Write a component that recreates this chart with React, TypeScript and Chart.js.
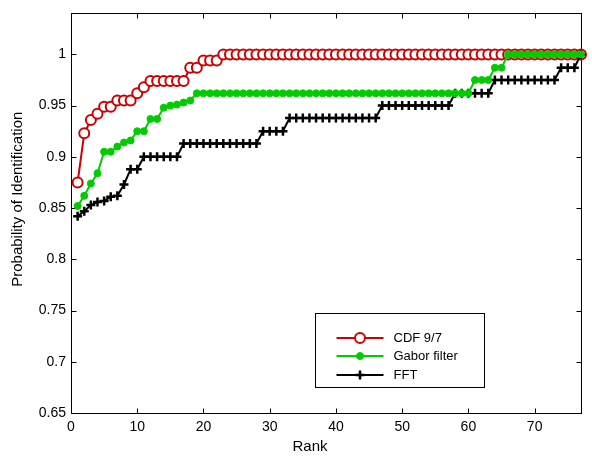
import React, { useEffect, useRef } from "react";
import { Chart, registerables } from "chart.js";

Chart.register(...registerables);

// ---- data ----
const ranks = Array.from({ length: 77 }, (_, i) => i + 1);

const cdf97 = [
  0.875, 0.923, 0.936, 0.942, 0.949, 0.949, 0.955, 0.955, 0.955, 0.962, 0.968,
  0.974, 0.974, 0.974, 0.974, 0.974, 0.974,
  0.987, 0.987,
  0.994, 0.994, 0.994,
  1, 1, 1, 1, 1, 1, 1, 1, 1, 1, 1,
  1, 1, 1, 1, 1, 1, 1, 1, 1, 1, 1,
  1, 1, 1, 1, 1, 1, 1, 1, 1, 1, 1,
  1, 1, 1, 1, 1, 1, 1, 1, 1, 1, 1,
  1, 1, 1, 1, 1, 1, 1, 1, 1, 1, 1,
];

const gabor = [
  0.852, 0.862, 0.874, 0.884, 0.905, 0.905, 0.91, 0.914, 0.916, 0.925, 0.925,
  0.937, 0.937, 0.948, 0.95, 0.951, 0.953, 0.955,
  0.962, 0.962, 0.962, 0.962, 0.962, 0.962, 0.962,
  0.962, 0.962, 0.962, 0.962, 0.962, 0.962, 0.962,
  0.962, 0.962, 0.962, 0.962, 0.962, 0.962, 0.962,
  0.962, 0.962, 0.962, 0.962, 0.962, 0.962, 0.962,
  0.962, 0.962, 0.962, 0.962, 0.962, 0.962, 0.962,
  0.962, 0.962, 0.962, 0.962, 0.962, 0.962, 0.962,
  0.975, 0.975, 0.975,
  0.987, 0.987,
  1, 1, 1, 1, 1, 1, 1, 1, 1, 1, 1, 1,
];

const fft = [
  0.842, 0.847, 0.853, 0.856, 0.857, 0.861, 0.862, 0.873, 0.888, 0.888,
  0.9, 0.9, 0.9, 0.9, 0.9, 0.9,
  0.913, 0.913, 0.913, 0.913, 0.913, 0.913, 0.913, 0.913, 0.913, 0.913, 0.913, 0.913,
  0.925, 0.925, 0.925, 0.925,
  0.938, 0.938, 0.938, 0.938, 0.938, 0.938, 0.938, 0.938, 0.938, 0.938, 0.938, 0.938, 0.938, 0.938,
  0.95, 0.95, 0.95, 0.95, 0.95, 0.95, 0.95, 0.95, 0.95, 0.95, 0.95,
  0.962, 0.962, 0.962, 0.962, 0.962, 0.962,
  0.975, 0.975, 0.975, 0.975, 0.975, 0.975, 0.975, 0.975, 0.975, 0.975,
  0.987, 0.987, 0.987,
  1,
];

const seriesNames = ["CDF 9/7", "Gabor filter", "FFT"];
const xTicks = [0, 10, 20, 30, 40, 50, 60, 70];
const yTicks = [0.65, 0.7, 0.75, 0.8, 0.85, 0.9, 0.95, 1];
const xLabel = "Rank";
const yLabel = "Probability of Identification";

// ---- styles ----
const FONT = '"Liberation Sans", Arial, Helvetica, sans-serif';
const RED = "rgb(204,0,0)";
const GREEN = "rgb(0,204,0)";
const BLACK = "#000000";

const framePlugin = {
  id: "frame",
  beforeDatasetsDraw(chart: any) {
    const { ctx, chartArea: a, scales } = chart;
    ctx.save();
    ctx.strokeStyle = "#000";
    ctx.lineWidth = 1;
    const l = Math.round(a.left) + 0.5;
    const t = Math.round(a.top) + 0.5;
    const r = Math.round(a.right) + 0.5;
    const b = Math.round(a.bottom) + 0.5;
    ctx.strokeRect(l, t, r - l, b - t);
    const L = 5;
    ctx.beginPath();
    for (const v of xTicks) {
      const x = Math.round(scales.x.getPixelForValue(v)) + 0.5;
      ctx.moveTo(x, b);
      ctx.lineTo(x, b - L);
      ctx.moveTo(x, t);
      ctx.lineTo(x, t + L);
    }
    for (const v of yTicks) {
      const y = Math.round(scales.y.getPixelForValue(v)) + 0.5;
      ctx.moveTo(l, y);
      ctx.lineTo(l + L, y);
      ctx.moveTo(r, y);
      ctx.lineTo(r - L, y);
    }
    ctx.stroke();
    ctx.restore();
  },
};

// axis titles (drawn as canvas text, placed like the reference)
const axisTitlePlugin = {
  id: "axisTitles",
  afterDraw(chart: any) {
    const { ctx, chartArea: a } = chart;
    ctx.save();
    ctx.fillStyle = "#000";
    ctx.font = `15px ${FONT}`;
    ctx.textAlign = "center";
    ctx.textBaseline = "middle";
    const cx = (a.left + a.right) / 2;
    ctx.fillText(xLabel, cx - 16, a.bottom + 34);
    const cy = (a.top + a.bottom) / 2;
    ctx.translate(18, cy - 14);
    ctx.rotate(-Math.PI / 2);
    ctx.fillText(yLabel, 0, 0);
    ctx.restore();
  },
};

const boxLegendPlugin = {
  id: "boxLegend",
  afterDraw(chart: any) {
    const { ctx, chartArea: a } = chart;
    const right = Math.round(a.right - 97) + 0.5;
    const bottom = Math.round(a.bottom - 26) + 0.5;
    const w = 169;
    const h = 74;
    const left = right - w;
    const top = bottom - h;
    ctx.save();
    ctx.fillStyle = "#fff";
    ctx.fillRect(left, top, w, h);
    ctx.strokeStyle = "#000";
    ctx.lineWidth = 1;
    ctx.strokeRect(left, top, w, h);
    const rows = [24, 42.5, 61];
    chart.data.datasets.forEach((ds: any, i: number) => {
      const y = Math.round(top + rows[i]);
      const x1 = left + 21;
      const x2 = left + 68;
      const xm = (x1 + x2) / 2;
      ctx.strokeStyle = ds.borderColor;
      ctx.lineWidth = ds.borderWidth;
      ctx.beginPath();
      ctx.moveTo(x1, y);
      ctx.lineTo(x2, y);
      ctx.stroke();
      const rr = ds.pointRadius;
      ctx.lineWidth = ds.pointBorderWidth;
      ctx.strokeStyle = ds.pointBorderColor;
      ctx.fillStyle = ds.pointBackgroundColor;
      if (ds.pointStyle === "cross") {
        ctx.beginPath();
        ctx.moveTo(xm - rr, y);
        ctx.lineTo(xm + rr, y);
        ctx.moveTo(xm, y - rr);
        ctx.lineTo(xm, y + rr);
        ctx.stroke();
      } else {
        ctx.beginPath();
        ctx.arc(xm, y, rr, 0, Math.PI * 2);
        ctx.fill();
        ctx.stroke();
      }
      ctx.fillStyle = "#000";
      ctx.font = `13px ${FONT}`;
      ctx.textAlign = "left";
      ctx.textBaseline = "middle";
      ctx.fillText(ds.label, left + 78, y + 0.5);
    });
    ctx.restore();
  },
};

function toPoints(values: number[]) {
  return ranks.map((r, i) => ({ x: r, y: values[i] }));
}

export default function App() {
  const canvasRef = useRef<HTMLCanvasElement | null>(null);

  useEffect(() => {
    if (!canvasRef.current) return;
    const font = { family: FONT, size: 14 };
    const chart = new Chart(canvasRef.current, {
      type: "line",
      data: {
        datasets: [
          {
            label: seriesNames[0],
            data: toPoints(cdf97),
            borderColor: RED,
            borderWidth: 2,
            pointStyle: "circle",
            pointRadius: 5,
            pointBorderWidth: 2,
            pointBorderColor: RED,
            pointBackgroundColor: "#ffffff",
            tension: 0,
            clip: false,
            order: 2,
          },
          {
            label: seriesNames[1],
            data: toPoints(gabor),
            borderColor: GREEN,
            borderWidth: 2,
            pointStyle: "circle",
            pointRadius: 3.5,
            pointBorderWidth: 1,
            pointBorderColor: GREEN,
            pointBackgroundColor: GREEN,
            tension: 0,
            clip: false,
            order: 0,
          },
          {
            label: seriesNames[2],
            data: toPoints(fft),
            borderColor: BLACK,
            borderWidth: 2,
            pointStyle: "cross",
            pointRadius: 4.5,
            pointBorderWidth: 2.5,
            pointBorderColor: BLACK,
            pointBackgroundColor: BLACK,
            tension: 0,
            clip: false,
            order: 1,
          },
        ] as any,
      },
      options: {
        animation: false,
        responsive: false,
        devicePixelRatio: 1,
        layout: { padding: { left: 0, right: 11, top: 10, bottom: 0 } },
        plugins: {
          legend: { display: false },
          tooltip: { enabled: false },
        },
        scales: {
          x: {
            type: "linear",
            min: 0,
            max: 77,
            afterBuildTicks: (s: any) => {
              s.ticks = xTicks.map((v) => ({ value: v }));
            },
            afterFit: (s: any) => {
              s.height = 46;
            },
            grid: { display: false, drawTicks: false },
            border: { display: false },
            ticks: {
              padding: 6,
              font,
              color: "#000",
              maxRotation: 0,
              autoSkip: false,
              callback: (v: any) => String(v),
            },
            title: { display: false, text: xLabel },
          },
          y: {
            type: "linear",
            min: 0.65,
            max: 1.04,
            afterBuildTicks: (s: any) => {
              s.ticks = yTicks.map((v) => ({ value: v }));
            },
            afterFit: (s: any) => {
              s.width = 71;
            },
            grid: { display: false, drawTicks: false },
            border: { display: false },
            ticks: {
              padding: 5,
              font,
              color: "#000",
              autoSkip: false,
              callback: (v: any) => String(Number(Number(v).toFixed(2))),
            },
            title: { display: false, text: yLabel },
          },
        },
      } as any,
      plugins: [framePlugin, boxLegendPlugin, axisTitlePlugin],
    });
    return () => chart.destroy();
  }, []);

  return (
    <div style={{ position: "fixed", left: 0, top: 0, width: 592, height: 459, background: "#fff" }}>
      <canvas ref={canvasRef} width={592} height={459} style={{ display: "block" }} />
    </div>
  );
}
